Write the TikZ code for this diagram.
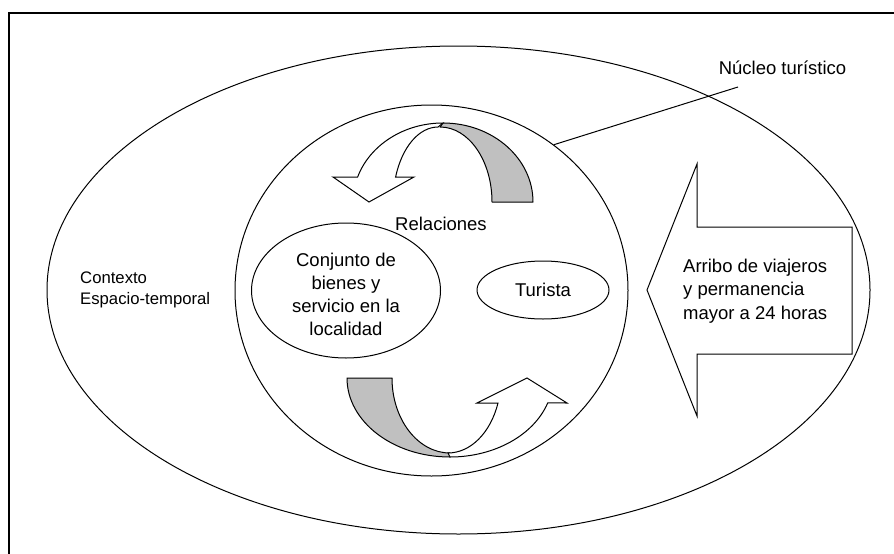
\documentclass[tikz,border=0pt]{standalone}
\usepackage{fontspec}
\setmainfont{Liberation Sans}
\usetikzlibrary{shapes.geometric}
\definecolor{bandgray}{RGB}{192,192,192}
\begin{document}
\begin{tikzpicture}[x=1pt,y=-1pt,
  outline/.style={draw=black, line width=1pt},
  oval/.style={outline, ellipse, inner sep=0pt},
  lbl/.style={font=\fontsize{18.5}{23.5}\selectfont, inner sep=0pt},
  band/.style={outline, fill=bandgray, line join=round},
  arrowbody/.style={outline, fill=white, line join=miter}]

\useasboundingbox (0,0) rectangle (894,554);
\fill[white] (0,0) rectangle (894,554);
\draw[line width=2pt] (894,13) -- (9,13) -- (9,554);

% ellipses
\node[oval, minimum width=823, minimum height=488] (contexto) at (458.5,290) {};
\node[oval, minimum width=393, minimum height=371] (nucleo) at (431.5,290.5) {};
\node[oval, minimum width=189, minimum height=135] (bienes) at (346,290.5) {};
\node[oval, lbl, minimum width=132, minimum height=58] (turista) at (543,290) {Turista};

% texts
\node[lbl, align=center, font=\fontsize{18.5}{23}\selectfont] (bienestxt) at (346,294) {Conjunto de\\bienes y\\servicio en la\\localidad};
\node[lbl] (relaciones) at (441,224) {Relaciones};
\node[lbl, anchor=west, align=left, font=\fontsize{16.7}{21}\selectfont] (ctxtxt) at (80,290) {Contexto\\Espacio-temporal};
\node[lbl] (nuclbl) at (782.5,68) {Núcleo turístico};
\coordinate (nucend) at (738,87);
\draw[outline] (nucleo.50) -- (nucend);

% big block arrow
\draw[arrowbody] (647,290) -- (697,164) -- (697,227) -- (852,227) -- (852,354) -- (697,354) -- (697,416) -- cycle;
\node[lbl, anchor=west, align=left] (arribo) at (683,291) {Arribo de viajeros\\y permanencia\\mayor a 24 horas};

% top curved arrow
\draw[band] (443,123) arc[start angle=-90, end angle=0, x radius=90, y radius=79]
  -- (492,202) arc[start angle=0, end angle=-90, x radius=52, y radius=75] -- cycle;
\draw[arrowbody] (443,123) arc[start angle=-90, end angle=-161.6, x radius=90, y radius=79]
  -- (333,177) -- (369,202) -- (414,177) -- (395.6,177)
  arc[start angle=-160.5, end angle=-90, x radius=45, y radius=75] -- cycle;

% bottom curved arrow
\draw[band] (347,378) arc[start angle=180, end angle=90, x radius=103, y radius=79]
  -- (450,453) arc[start angle=90, end angle=180, x radius=58, y radius=75] -- cycle;
\draw[arrowbody] (450,457) arc[start angle=90, end angle=18.4, x radius=103, y radius=79]
  -- (567,403) -- (527,378) -- (477,403) -- (498,403)
  arc[start angle=19.5, end angle=90, x radius=53, y radius=75] -- cycle;
\end{tikzpicture}
\end{document}
